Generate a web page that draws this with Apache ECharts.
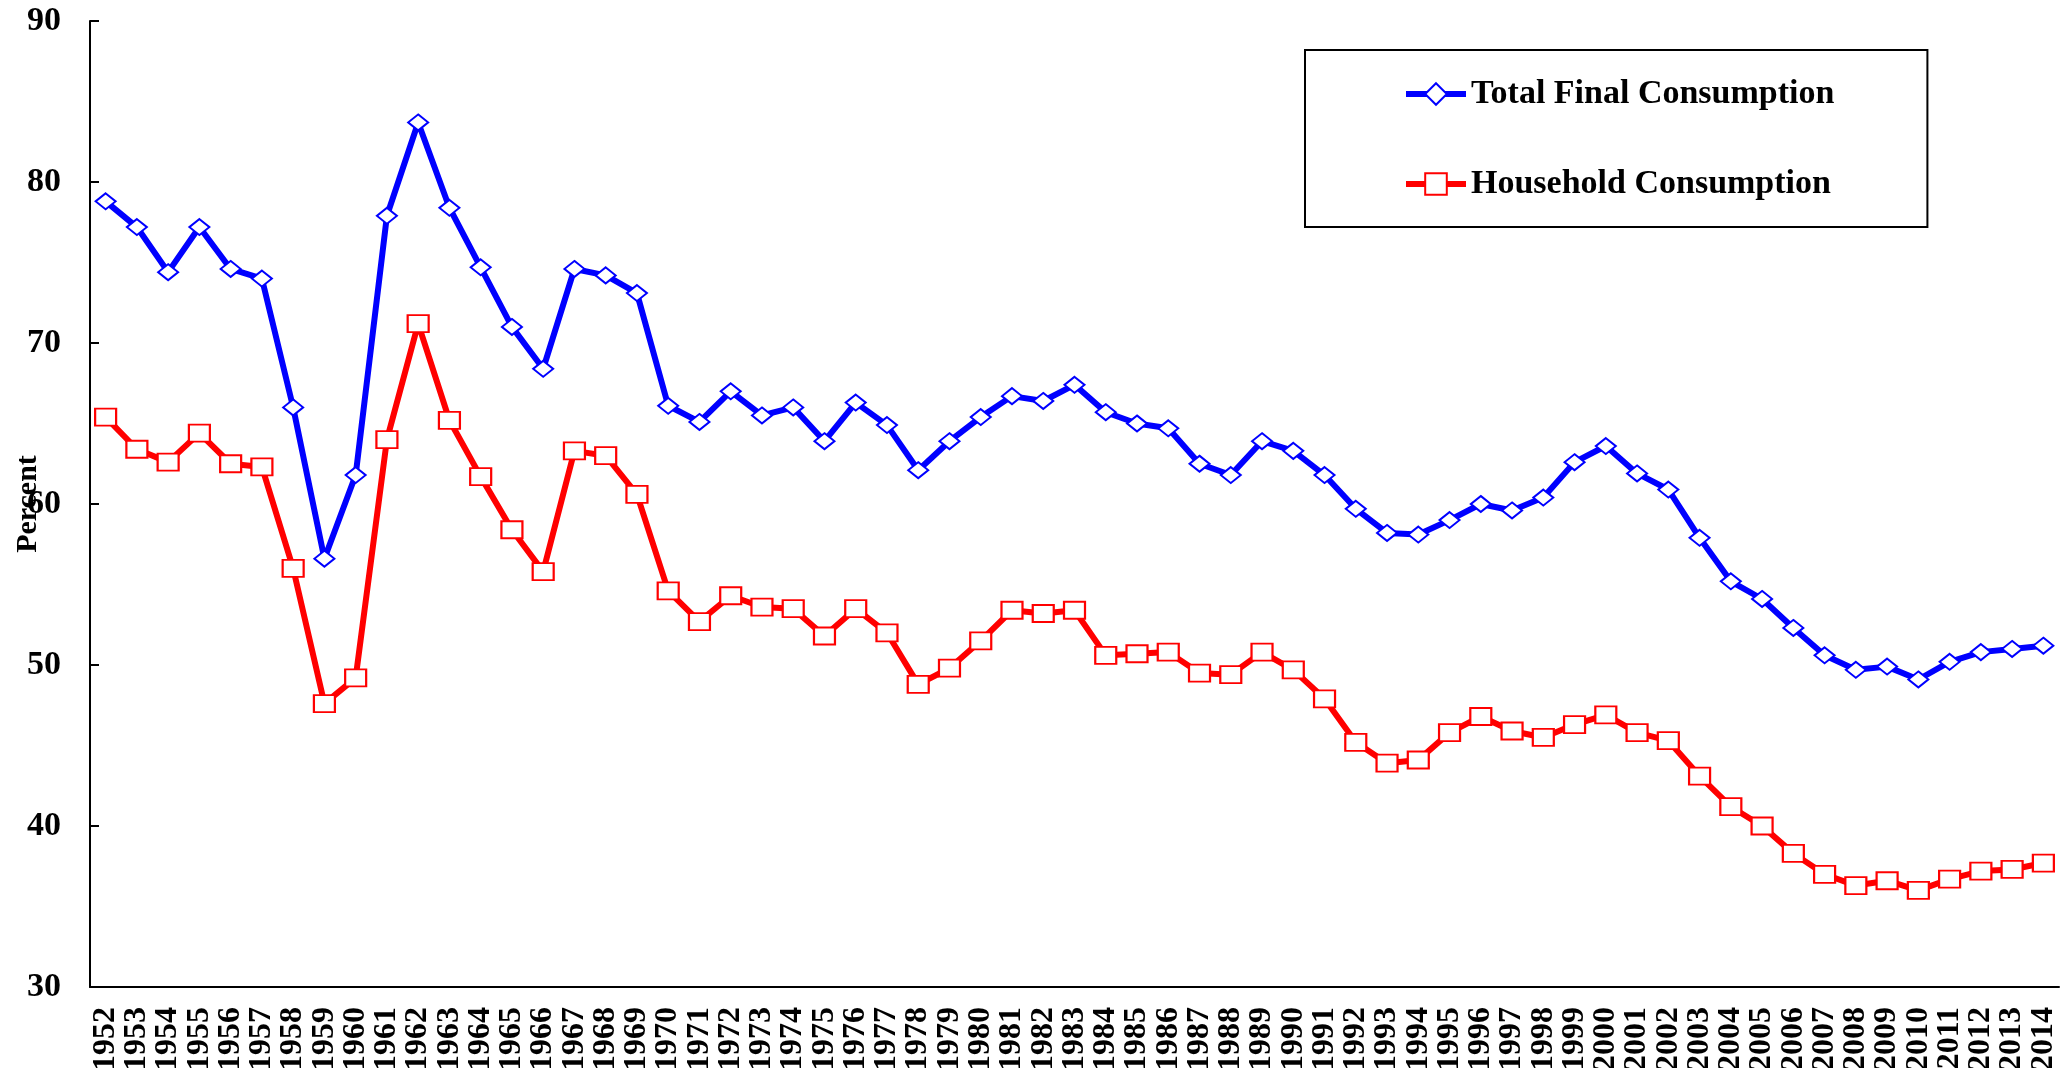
<!DOCTYPE html>
<html>
<head>
<meta charset="utf-8">
<title>Consumption share</title>
<script src="https://cdn.jsdelivr.net/npm/echarts@6/dist/echarts.min.js"></script>
<style>
  html, body { margin: 0; padding: 0; background: #fff; }
  #chart { width: 2063px; height: 1068px; }
</style>
</head>
<body>
<div id="chart"></div>
<script>
// years on the x axis
var years = [];
for (var y = 1952; y <= 2014; y++) years.push(String(y));

// Total final consumption, percent
var totalFinal = [
  78.8, 77.2, 74.4, 77.2, 74.6, 74.0, 66.0, 56.6, 61.8, 77.9,
  83.7, 78.4, 74.7, 71.0, 68.4, 74.6, 74.2, 73.1, 66.1, 65.1,
  67.0, 65.5, 66.0, 63.9, 66.3, 64.9, 62.1, 63.9, 65.4, 66.7,
  66.4, 67.4, 65.7, 65.0, 64.7, 62.5, 61.8, 63.9, 63.3, 61.8,
  59.7, 58.2, 58.1, 59.0, 60.0, 59.6, 60.4, 62.6, 63.6, 61.9,
  60.9, 57.9, 55.2, 54.1, 52.3, 50.6, 49.7, 49.9, 49.1, 50.2,
  50.8, 51.0, 51.2
];

// Household consumption, percent
var household = [
  65.4, 63.4, 62.6, 64.4, 62.5, 62.3, 56.0, 47.6, 49.2, 64.0,
  71.2, 65.2, 61.7, 58.4, 55.8, 63.3, 63.0, 60.6, 54.6, 52.7,
  54.3, 53.6, 53.5, 51.8, 53.5, 52.0, 48.8, 49.8, 51.5, 53.4,
  53.2, 53.4, 50.6, 50.7, 50.8, 49.5, 49.4, 50.8, 49.7, 47.9,
  45.2, 43.9, 44.1, 45.8, 46.8, 45.9, 45.5, 46.3, 46.9, 45.8,
  45.3, 43.1, 41.2, 40.0, 38.3, 37.0, 36.3, 36.6, 36.0, 36.7,
  37.2, 37.3, 37.7
];

var serif = '"Liberation Serif", "Times New Roman", serif';

var chart = echarts.init(document.getElementById('chart'));

var option = {
    backgroundColor: '#fff',
    animation: false,
    textStyle: { fontFamily: serif, color: '#000' },
    grid: {
        left: 90,
        right: 4,
        top: 21,
        bottom: 81,
        outerBoundsMode: 'none'
    },
    legend: {
        orient: 'vertical',
        left: 1305,
        top: 50,
        padding: [27, 93, 26, 98],
        itemGap: 56,
        itemWidth: 60,
        itemHeight: 27,
        borderColor: '#000',
        borderWidth: 2,
        lineStyle: { width: 6 },
        textStyle: {
            fontFamily: serif,
            fontWeight: 'bold',
            fontSize: 34,
            color: '#000'
        },
        data: ['Total Final Consumption', 'Household Consumption']
    },
    xAxis: {
        type: 'category',
        data: years,
        boundaryGap: true,
        axisLine: { lineStyle: { color: '#000', width: 2 } },
        axisTick: { inside: true, length: 8, lineStyle: { color: '#000', width: 2 } },
        axisLabel: {
            interval: 0,
            rotate: 90,
            margin: 20,
            fontFamily: serif,
            fontWeight: 'bold',
            fontSize: 32,
            color: '#000'
        },
        splitLine: { show: false }
    },
    yAxis: {
        type: 'value',
        min: 30,
        max: 90,
        interval: 10,
        name: 'Percent',
        nameLocation: 'middle',
        nameRotate: 90,
        nameGap: 47,
        nameMoveOverlap: false,
        nameTextStyle: {
            fontFamily: serif,
            fontWeight: 'bold',
            fontSize: 30,
            color: '#000'
        },
        axisLine: { show: true, lineStyle: { color: '#000', width: 2 } },
        axisTick: { show: true, inside: true, length: 9, lineStyle: { color: '#000', width: 2 } },
        axisLabel: {
            margin: 29,
            fontFamily: serif,
            fontWeight: 'bold',
            fontSize: 34,
            color: '#000'
        },
        splitLine: { show: false }
    },
    series: [
        {
            name: 'Total Final Consumption',
            type: 'line',
            data: totalFinal,
            symbol: 'emptyDiamond',
            symbolSize: [20, 16],
            showAllSymbol: true,
            color: '#0000ff',
            lineStyle: { color: '#0000ff', width: 6 },
            itemStyle: { color: '#0000ff', borderWidth: 2 }
        },
        {
            name: 'Household Consumption',
            type: 'line',
            data: household,
            symbol: 'emptyRect',
            symbolSize: [21, 17],
            showAllSymbol: true,
            color: '#ff0000',
            lineStyle: { color: '#ff0000', width: 6 },
            itemStyle: { color: '#ff0000', borderWidth: 2 }
        }
    ]
};

chart.setOption(option);
</script>
</body>
</html>
